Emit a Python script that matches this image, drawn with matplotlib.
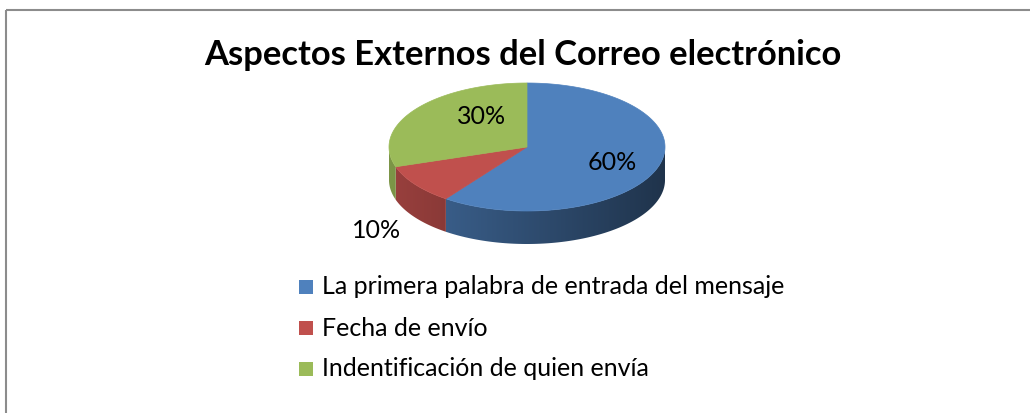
import numpy as np
import matplotlib.pyplot as plt
from matplotlib.patches import Polygon, Rectangle
from matplotlib.colors import to_rgb

title = 'Aspectos Externos del Correo electrónico'
categories = ['La primera palabra de entrada del mensaje', 'Fecha de envío', 'Indentificación de quien envía']
values = [60, 10, 30]
colors = ['#4f81bd', '#c0504d', '#9bbb59']

plt.rcParams['font.family'] = ['Lato', 'DejaVu Sans']

W, H = 1030, 413
fig = plt.figure(figsize=(W / 100, H / 100), dpi=100)
ax = fig.add_axes([0, 0, 1, 1])
ax.set_xlim(0, W)
ax.set_ylim(H, 0)
ax.axis('off')

# outer chart frame (cut off at right and bottom)
ax.add_patch(Rectangle((6, 10), 1200, 600, fill=False, ec='#8c8c8c', lw=1.5))

# pie geometry in pixels
cx, cy, rx, ry, depth = 527, 147, 138, 64, 33


def pt(t, dy=0):
    return cx + rx * np.cos(t), cy - ry * np.sin(t) + dy


total = sum(values)
starts = []
a = np.pi / 2
for v in values:
    starts.append((a, a - 2 * np.pi * v / total))
    a -= 2 * np.pi * v / total

# side walls: only the front half is visible, shaded darker to the right
gx = np.linspace(0, 1, 256)
for (t0, t1), c in zip(starts, colors):
    # clip wedge range to the front half (angles between pi and 2pi, i.e. sin < 0)
    lo, hi = min(t0, t1), max(t0, t1)
    segs = []
    for off in (-2 * np.pi, 0, 2 * np.pi):
        s0, s1 = max(lo, np.pi + off), min(hi, 2 * np.pi + off)
        if s1 > s0:
            segs.append((s0, s1))
    for s0, s1 in segs:
        ts = np.linspace(s0, s1, 200)
        xs, ys = pt(ts)
        verts = list(zip(xs, ys)) + list(zip(xs[::-1], ys[::-1] + depth))
        poly = Polygon(verts, closed=True, fc='none', ec='none')
        ax.add_patch(poly)
        base = np.array(to_rgb(c))
        f = 0.80 - 0.40 * gx
        img = (base[None, None, :] * f[None, :, None])
        im = ax.imshow(img, extent=(cx - rx, cx + rx, cy + ry + depth + 2, cy - 2),
                       aspect='auto', interpolation='bilinear', zorder=1)
        im.set_clip_path(poly)

# top faces
for (t0, t1), c in zip(starts, colors):
    ts = np.linspace(t0, t1, 200)
    xs, ys = pt(ts)
    verts = [(cx, cy)] + list(zip(xs, ys))
    ax.add_patch(Polygon(verts, closed=True, fc=c, ec=c, lw=0.5, zorder=2))

ax.set_xlim(0, W)
ax.set_ylim(H, 0)

# percentage labels
label_pos = [(612, 163), (377, 230), (482, 116)]
for v, (lx, ly) in zip(values, label_pos):
    ax.text(lx, ly, f'{round(100 * v / total)}%', ha='center', va='center',
            fontsize=18, color='black', zorder=3)

ax.text(523, 55, title, ha='center', va='center', fontsize=24.8, fontweight='bold')

# legend
leg_y = [287, 328, 369]
for name, c, y in zip(categories, colors, leg_y):
    ax.add_patch(Rectangle((299, y - 7), 14, 14, fc=c, ec='none'))
    ax.text(322, y, name, ha='left', va='center', fontsize=18)

fig.savefig('out.png', dpi=100)
